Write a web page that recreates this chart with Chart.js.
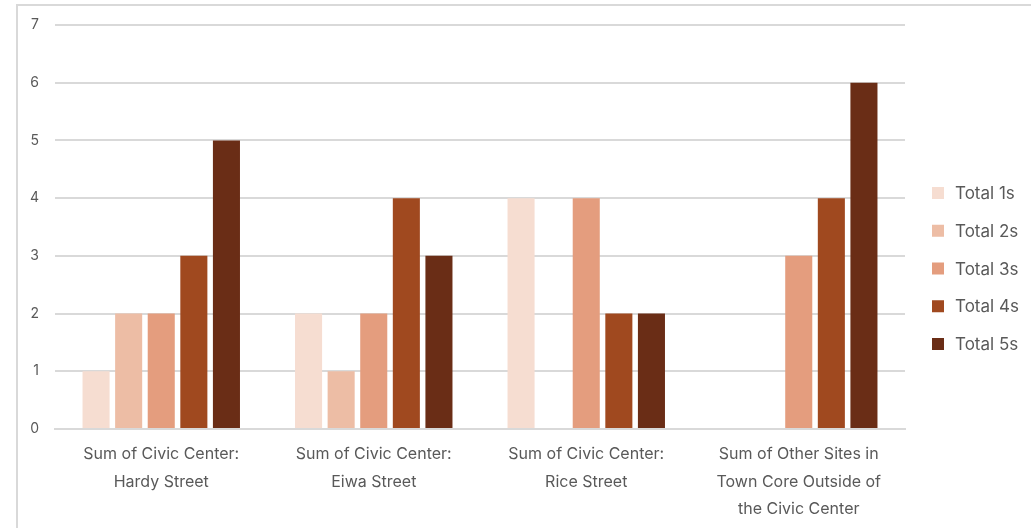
<!DOCTYPE html>
<html>
<head>
<meta charset="utf-8">
<script src="https://cdn.jsdelivr.net/npm/chart.js@4/dist/chart.umd.min.js"></script>
<style>
  html, body { margin: 0; padding: 0; background: #fff; overflow: hidden; }
  #wrap { position: relative; width: 1031px; height: 528px; }
  #frame { position: absolute; left: 16px; top: 4px; width: 2000px; height: 2000px;
           border: 2px solid #d9d9d9; box-sizing: border-box; pointer-events: none; }
  canvas { position: absolute; left: 0; top: 0; }
</style>
</head>
<body>
<div id="wrap">
  <div id="frame"></div>
  <canvas id="c" width="1031" height="528"></canvas>
</div>
<script>
const categories = [
  ["Sum of Civic Center:", "Hardy Street"],
  ["Sum of Civic Center:", "Eiwa Street"],
  ["Sum of Civic Center:", "Rice Street"],
  ["Sum of Other Sites in", "Town Core Outside of", "the Civic Center"]
];
const seriesNames = ["Total 1s", "Total 2s", "Total 3s", "Total 4s", "Total 5s"];
const total1s = [1, 2, 4, 0];
const total2s = [2, 1, 0, 0];
const total3s = [2, 2, 4, 3];
const total4s = [3, 4, 2, 4];
const total5s = [5, 3, 2, 6];
const yTicks = [0, 1, 2, 3, 4, 5, 6, 7];

const colors = ["#F6DDD1", "#EDBDA5", "#E49D7E", "#A0491F", "#6A2D16"];
const seriesValues = [total1s, total2s, total3s, total4s, total5s];

const FONT = "Inter, 'Open Sans', sans-serif";
const TEXT = "#595959";

const legendPlugin = {
  id: 'sideLegend',
  afterDraw(chart) {
    const ctx = chart.ctx;
    ctx.save();
    ctx.font = "17px " + FONT;
    ctx.textBaseline = "middle";
    ctx.textAlign = "left";
    const x = 932, y0 = 193, step = 37.75;
    chart.data.datasets.forEach((ds, i) => {
      const y = y0 + i * step;
      ctx.fillStyle = ds.backgroundColor;
      ctx.fillRect(x, y - 6, 12, 12);
      ctx.fillStyle = TEXT;
      ctx.fillText(ds.label, x + 23, y + 1);
    });
    ctx.restore();
  }
};

new Chart(document.getElementById('c'), {
  type: 'bar',
  data: {
    labels: categories,
    datasets: seriesNames.map((n, i) => ({
      label: n,
      data: seriesValues[i],
      backgroundColor: colors[i],
      borderWidth: 0,
      categoryPercentage: 0.767,
      barPercentage: 0.83
    }))
  },
  options: {
    responsive: false,
    animation: false,
    layout: { padding: { left: 0, right: 126, top: 25, bottom: 0 } },
    plugins: { legend: { display: false }, tooltip: { enabled: false } },
    scales: {
      x: {
        grid: { display: false, drawTicks: false },
        border: { display: true, color: "#d9d9d9", width: 2 },
        ticks: {
          color: TEXT, padding: 12, maxRotation: 0, autoSkip: false,
          font: { family: FONT, size: 16, lineHeight: 1.7 }
        },
        afterFit(s) { s.height = 99; }
      },
      y: {
        min: 0, max: 7,
        afterBuildTicks(s) { s.ticks = yTicks.map(v => ({ value: v })); },
        grid: { color: "#d9d9d9", lineWidth: 2, drawTicks: false },
        border: { display: false },
        ticks: { color: TEXT, padding: 16, font: { family: FONT, size: 14 } },
        afterFit(s) { s.width = 55; }
      }
    }
  },
  plugins: [legendPlugin]
});
</script>
</body>
</html>
